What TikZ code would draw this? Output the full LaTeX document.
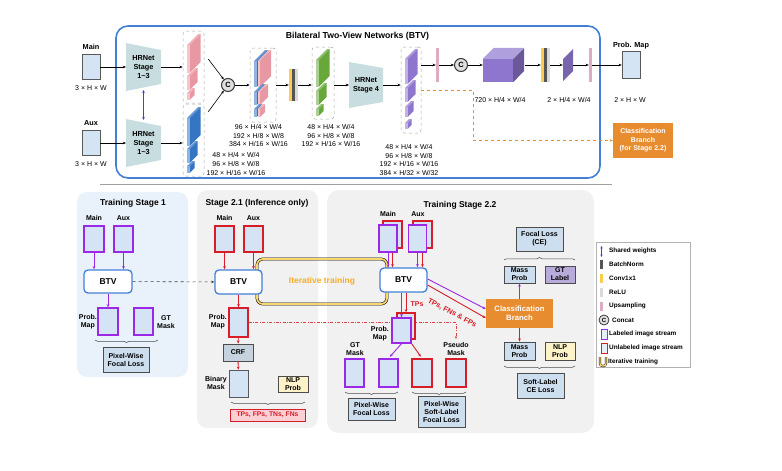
\documentclass[tikz,border=0pt]{standalone}
\usepackage{fontspec}
\setmainfont{Liberation Sans}
\usetikzlibrary{arrows.meta,decorations.pathreplacing}
\definecolor{inblue}{RGB}{213,228,245}
\definecolor{lossblue}{RGB}{205,222,238}
\definecolor{btvblue}{RGB}{66,128,214}
\definecolor{labpurple}{RGB}{155,40,230}
\definecolor{unlabred}{RGB}{215,30,40}
\definecolor{sharedblue}{RGB}{70,60,225}
\definecolor{trapteal}{RGB}{200,221,224}
\definecolor{clsorange}{RGB}{232,140,48}
\definecolor{pinkfeat}{RGB}{232,152,162}
\definecolor{bluefeat}{RGB}{52,118,196}
\definecolor{greenfeat}{RGB}{104,168,58}
\definecolor{violetfeat}{RGB}{142,118,206}
\definecolor{panelblue}{RGB}{233,241,250}
\definecolor{panelgray}{RGB}{241,241,241}
\definecolor{convyellow}{RGB}{250,205,80}
\definecolor{bngray}{RGB}{85,85,85}
\definecolor{relugray}{RGB}{218,218,218}
\definecolor{uppink}{RGB}{220,172,196}
\definecolor{nlpyellow}{RGB}{253,242,200}
\definecolor{gtlav}{RGB}{185,170,220}
\definecolor{crfgray}{RGB}{198,210,222}
\definecolor{loopyellow}{RGB}{250,214,110}
\definecolor{iterorange}{RGB}{245,172,45}
\definecolor{tpspink}{RGB}{250,208,213}

% feature slab: x of front, y of front top, front height, depth, colour
\newcommand{\featslab}[5]{%
  \fill[#5] (#1+2.5,#2) -- (#1+2.5+#4,#2-#4) -- (#1+2.5+#4,#2+#3-#4) -- (#1+2.5,#2+#3) -- cycle;
  \fill[#5!55!white] (#1,#2) rectangle (#1+2.5,#2+#3);
  \fill[#5!75!white] (#1,#2) -- (#1+#4,#2-#4) -- (#1+2.5+#4,#2-#4) -- (#1+2.5,#2) -- cycle;
}
% conv1x1 / batchnorm / relu bars inside a node
\newcommand{\normbars}[2]{%
  \fill[convyellow] (#1.north west) rectangle ++(3,#2);
  \fill[bngray] ([xshift=3pt]#1.north west) rectangle ++(3,#2);
  \fill[relugray] ([xshift=6pt]#1.north west) rectangle ++(3,#2);
}

\tikzset{
  lbl/.style={font=\bfseries\fontsize{7}{8}\selectfont, align=center, inner sep=0pt},
  dimtxt/.style={font=\fontsize{7}{8.6}\selectfont, align=center, inner sep=0pt},
  ttl/.style={font=\bfseries\fontsize{8.5}{9}\selectfont, inner sep=0pt},
  hrtxt/.style={lbl, font=\bfseries\fontsize{7.3}{8.6}\selectfont},
  imgbox/.style={draw=gray!70!black, fill=inblue, line width=0.5pt, minimum width=18pt, minimum height=26pt, inner sep=0pt},
  labbox/.style={imgbox, draw=labpurple, line width=1.3pt},
  unlabbox/.style={imgbox, draw=unlabred, line width=1.3pt},
  btvbox/.style={draw=btvblue, fill=white, line width=1.3pt, rounded corners=4pt, minimum width=47pt, minimum height=24pt, inner sep=0pt, font=\bfseries\fontsize{8.5}{9}\selectfont},
  lossbox/.style={draw=black!70, fill=lossblue, line width=0.7pt, align=center, inner sep=0pt, font=\bfseries\fontsize{7}{8}\selectfont},
  featcol/.style={draw=gray!70, dashed, rounded corners=3pt, line width=0.5pt, inner sep=0pt},
  catc/.style={circle, draw=gray!45!black, fill=gray!25, line width=1pt, minimum size=13pt, inner sep=0pt, font=\bfseries\fontsize{7.5}{7.5}\selectfont},
  upbar/.style={minimum width=3pt, inner sep=0pt},
  arr/.style={-{Stealth[length=3.2pt,width=2.6pt]}, line width=0.6pt},
  parr/.style={arr, draw=labpurple, line width=0.9pt},
  rarr/.style={arr, draw=unlabred, line width=0.9pt},
  brc/.style={decorate, decoration={brace, amplitude=2.5pt}, draw=black!70, line width=0.5pt},
  brcdown/.style={brc, decoration={mirror}},
  clsbox/.style={fill=clsorange, text=white, align=center, inner sep=0pt, font=\bfseries\fontsize{7.7}{9}\selectfont},
  legtxt/.style={anchor=west, inner sep=0pt, font=\bfseries\fontsize{6.4}{7}\selectfont},
}

\begin{document}
\begin{tikzpicture}[x=1pt, y=-1pt]
\useasboundingbox (0,0) rectangle (782,471);
% Panels of the lower half
\fill[panelblue, rounded corners=10pt] (77,192) rectangle (188,377);
\fill[panelgray, rounded corners=10pt] (197,190) rectangle (318,428);
\fill[panelgray, rounded corners=12pt] (327,190) rectangle (594,433);
% Separator
\draw[gray!75, line width=1pt] (100,184) -- (612,184);

% ---------- BTV network ----------
\draw[btvblue, line width=1.6pt, rounded corners=12pt] (116,26) rectangle (600,178);
\node[font=\bfseries\fontsize{8.7}{9}\selectfont] (btvT) at (357.5,36) {Bilateral Two-View Networks (BTV)};
% Inputs
\node[lbl, font=\bfseries\fontsize{7.3}{8}\selectfont] (mainT) at (91,47) {Main};
\node[imgbox, minimum height=25pt] (mainBox) at (91,67) {};
\node[dimtxt] (mainDim) at (91,88) {3 × H × W};
\node[lbl, font=\bfseries\fontsize{7.3}{8}\selectfont] (auxT) at (91,123) {Aux};
\node[imgbox, minimum height=25pt] (auxBox) at (91,143) {};
\node[dimtxt] (auxDim) at (91,164) {3 × H × W};
% HRNet stages 1-3
\fill[trapteal] (126,43) -- (161,50) -- (161,84) -- (126,91) -- cycle;
\fill[trapteal] (126,119) -- (161,126) -- (161,160) -- (126,167) -- cycle;
\node[hrtxt] (hrA) at (143.5,67) {HRNet\\Stage\\1\textasciitilde3};
\node[hrtxt] (hrB) at (143.5,143) {HRNet\\Stage\\1\textasciitilde3};
\coordinate (hrAin) at (126,67);
\coordinate (hrAout) at (161,67);
\coordinate (hrBin) at (126,143);
\coordinate (hrBout) at (161,143);
\coordinate (swTop) at (143.5,90);
\coordinate (swBot) at (143.5,120);
\draw[<->, >={Stealth[length=3pt,width=2.6pt]}, sharedblue, line width=0.9pt] (swTop) -- (swBot);
\draw[arr] (mainBox) -- (hrAin);
\draw[arr] (auxBox) -- (hrBin);
% Feature columns of both views
\node[featcol, minimum width=21pt, minimum height=72pt] (colP) at (193.5,67) {};
\featslab{187}{45}{28}{11}{pinkfeat}
\featslab{187}{76}{14}{8}{pinkfeat}
\featslab{187}{93}{7}{5}{pinkfeat}
\node[featcol, minimum width=21pt, minimum height=72pt] (colB) at (193.5,140) {};
\featslab{187}{118}{28}{11}{bluefeat}
\featslab{187}{149}{14}{8}{bluefeat}
\featslab{187}{166}{7}{5}{bluefeat}
\draw[arr] (hrAout) -- (hrAout -| colP.west);
\draw[arr] (hrBout) -- (hrBout -| colB.west);
\node[dimtxt] (colBdim) at (236,164) {48 × H/4 × W/4\\96 × H/8 × W/8\\192 × H/16 × W/16};
% Concat of the two views
\node[catc] (cat1) at (228,85) {C};
\draw[arr] ([xshift=4pt,yshift=8pt]colP.east) -- (cat1);
\draw[arr] ([xshift=4pt,yshift=-8pt]colB.north east) -- (cat1);
\node[featcol, minimum width=26pt, minimum height=74pt] (colC) at (263,85) {};
\featslab{254}{61}{26}{11}{bluefeat}
\featslab{257.5}{61}{26}{11}{pinkfeat}
\featslab{254}{92}{13}{8}{bluefeat}
\featslab{257.5}{92}{13}{8}{pinkfeat}
\featslab{254}{109}{8}{5}{bluefeat}
\featslab{257.5}{109}{8}{5}{pinkfeat}
\draw[arr] (cat1) -- (colC);
\node[dimtxt] (colCdim) at (258.5,135.5) {96 × H/4 × W/4\\192 × H/8 × W/8\\384 × H/16 × W/16};
% Fusion layers
\node[minimum width=9pt, minimum height=32pt, inner sep=0pt] (bn1) at (293.5,85) {};
\normbars{bn1}{32}
\draw[arr] (colC) -- (bn1);
\node[featcol, minimum width=22pt, minimum height=72pt] (colG) at (323,83) {};
\featslab{316}{60}{27}{11}{greenfeat}
\featslab{316}{91}{14}{8}{greenfeat}
\featslab{316}{109}{7}{5}{greenfeat}
\draw[arr] (bn1.east) -- (bn1.east -| colG.west);
\node[dimtxt] (colGdim) at (331,135.5) {48 × H/4 × W/4\\96 × H/8 × W/8\\192 × H/16 × W/16};
% HRNet stage 4
\fill[trapteal] (349,62) -- (383,68) -- (383,102) -- (349,108) -- cycle;
\node[hrtxt] (hrC) at (366,85.5) {HRNet\\Stage 4};
\coordinate (hrCin) at (349,85);
\coordinate (hrCout) at (383,85);
\draw[arr] (colG.east |- hrCin) -- (hrCin);
\node[featcol, minimum width=20pt, minimum height=86pt] (colV) at (411,90) {};
\featslab{405}{59}{25}{10}{violetfeat}
\featslab{405}{88}{14}{8}{violetfeat}
\featslab{405}{107}{10}{6}{violetfeat}
\featslab{405}{123}{6}{4}{violetfeat}
\draw[arr] (hrCout) -- (hrCout -| colV.west);
\node[dimtxt] (colVdim) at (409,160) {48 × H/4 × W/4\\96 × H/8 × W/8\\192 × H/16 × W/16\\384 × H/32 × W/32};
% Segmentation head
\node[upbar, fill=uppink, minimum height=34pt] (up1) at (437.5,65) {};
\draw[arr] (colV.east |- up1) -- (up1);
\node[catc] (cat2) at (461,65) {C};
\draw[arr] (up1) -- (cat2);
\node[fill=violetfeat, minimum width=30pt, minimum height=23pt, inner sep=0pt] (cubeA) at (498,70.5) {};
\fill[violetfeat!70!white] (cubeA.north west) -- ++(11,-11) -- ++(30,0) -- (cubeA.north east) -- cycle;
\fill[violetfeat!75!black] (cubeA.north east) -- ++(11,-11) -- ++(0,23) -- (cubeA.south east) -- cycle;
\draw[arr] (cat2) -- (cat2 -| cubeA.west);
\node[dimtxt] (cubeDim) at (500,100) {720 × H/4 × W/4};
\coordinate (cubeOut) at (525,65);
\node[minimum width=9pt, minimum height=34pt, inner sep=0pt] (bn2) at (545.5,65) {};
\normbars{bn2}{34}
\draw[arr] (cubeOut) -- (bn2);
\node[minimum width=10pt, minimum height=32pt, inner sep=0pt] (convB) at (568,65) {};
\fill[violetfeat!85!black] (563,59) -- (573,49) -- (573,71) -- (563,81) -- cycle;
\draw[arr] (bn2) -- (convB);
\node[dimtxt] (convDim) at (569,100) {2 × H/4 × W/4};
\node[upbar, fill=uppink, minimum height=34pt] (up2) at (590.5,65) {};
\draw[arr] (convB) -- (up2);
\node[lbl, font=\bfseries\fontsize{7.3}{8}\selectfont] (probT) at (631,46) {Prob. Map};
\node[imgbox, minimum height=27pt] (probBox) at (631,65) {};
\draw[arr] (up2) -- (probBox);
\node[dimtxt] (probDim) at (630,100) {2 × H × W};
% Classification branch
\node[clsbox, font=\bfseries\fontsize{7}{8.6}\selectfont, minimum width=60pt, minimum height=35pt] (clsTop) at (643,140.5) {Classification\\Branch\\(for Stage 2.2)};
\draw[arr, clsorange, dashed, line width=0.8pt] (colV.east) -- ++(52,0) |- (clsTop.west);

% ---------- Training stage 1 ----------
\node[ttl] (s1T) at (133,203) {Training Stage 1};
\node[lbl] (s1mainT) at (94,218) {Main};
\node[lbl] (s1auxT) at (123.5,218) {Aux};
\node[labbox, minimum width=20pt] (s1main) at (94,239) {};
\node[labbox, minimum width=19pt] (s1aux) at (123.5,239) {};
\node[btvbox, minimum width=48pt, minimum height=23pt] (s1btv) at (108,281.5) {BTV};
\draw[parr] (s1main) -- (s1main |- s1btv.north);
\draw[parr] (s1aux) -- (s1aux |- s1btv.north);
\node[labbox, minimum width=20pt, minimum height=27pt] (s1prob) at (108,321.5) {};
\draw[parr] (s1btv) -- (s1prob);
\node[lbl, anchor=east] (s1probT) at (97,322) {Prob.\\Map};
\node[labbox, minimum width=19pt, minimum height=27pt] (s1gt) at (143.5,321.5) {};
\node[lbl, anchor=west] (s1gtT) at (157,322) {GT\\Mask};
\draw[brcdown] (95,340) -- (158,340);
\node[lossbox, minimum width=46pt, minimum height=25pt] (s1loss) at (126,359.5) {Pixel-Wise\\Focal Loss};

% ---------- Stage 2.1 ----------
\node[ttl] (s21T) at (257,203) {Stage 2.1 (Inference only)};
\node[lbl] (s21mainT) at (224.5,218) {Main};
\node[lbl] (s21auxT) at (253.5,218) {Aux};
\node[unlabbox, minimum width=19pt] (s21main) at (224.5,239) {};
\node[unlabbox, minimum width=19pt] (s21aux) at (253.5,239) {};
% Iterative training loop
\draw[black, line width=0.5pt, double=loopyellow, double distance=1.8pt, rounded corners=6pt] (257,259) rectangle (387,304);
\node[font=\bfseries\fontsize{8.5}{9}\selectfont, text=iterorange] (iterT) at (322,281) {Iterative training};
\node[btvbox] (s21btv) at (238.5,282) {BTV};
\draw[rarr] (s21main) -- (s21main |- s21btv.north);
\draw[rarr] (s21aux) -- (s21aux |- s21btv.north);
\draw[arr, dashed, black!75] (s1btv) -- (s21btv);
\node[unlabbox, minimum width=19pt, minimum height=29pt] (s21prob) at (238.5,322.5) {};
\draw[rarr] (s21btv) -- (s21prob);
\node[lbl, anchor=east] (s21probT) at (227,322) {Prob.\\Map};
\node[lossbox, fill=crfgray, minimum width=30pt, minimum height=17pt] (crf) at (238,352.5) {CRF};
\draw[rarr] (s21prob) -- (crf);
\node[imgbox, minimum width=19pt, minimum height=27pt] (s21bin) at (238.5,383.5) {};
\draw[rarr] (crf) -- (s21bin);
\node[lbl, anchor=east] (s21binT) at (227,383) {Binary\\Mask};
\node[lossbox, fill=nlpyellow, minimum width=30pt, minimum height=16pt] (s21nlp) at (293,384) {NLP\\Prob};
\draw[brcdown] (231,402) -- (305,402);
\node[draw=unlabred, fill=tpspink, text=unlabred, line width=0.7pt, inner sep=0pt, minimum width=75pt, minimum height=12pt, font=\bfseries\fontsize{6.8}{7}\selectfont] (s21tps) at (267.5,415) {TPs, FPs, TNs, FNs};
% Pseudo mask path
\coordinate (pseudoTurn) at (456,322.5);
\coordinate (pseudoEnd) at (456,339);
\draw[-{Stealth[length=3pt,width=2.4pt]}, unlabred!85, line width=0.6pt, dash pattern=on 3pt off 1.5pt on 0.8pt off 1.5pt] (s21prob.east) -- (pseudoTurn) -- (pseudoEnd);

% ---------- Training stage 2.2 ----------
\node[ttl] (s22T) at (460,205) {Training Stage 2.2};
\node[lbl] (s22mainT) at (388,214) {Main};
\node[lbl] (s22auxT) at (418,214) {Aux};
\node[unlabbox, minimum width=19pt, minimum height=27pt] (s22mainR) at (392.5,234.5) {};
\node[labbox, minimum width=18pt, minimum height=27pt] (s22main) at (388,238.5) {};
\node[unlabbox, minimum width=19pt, minimum height=27pt] (s22auxR) at (422.5,234.5) {};
\node[labbox, minimum width=18pt, minimum height=27pt] (s22aux) at (417.5,238.5) {};
\node[btvbox] (s22btv) at (403.5,280) {BTV};
\draw[parr] (s22main) -- (s22main |- s22btv.north);
\draw[rarr] (s22main.south -| s22mainR) -- (s22mainR |- s22btv.north);
\draw[parr] (s22aux) -- (s22aux |- s22btv.north);
\draw[rarr] (s22aux.south -| s22auxR) -- (s22auxR |- s22btv.north);
\node[unlabbox, minimum width=18pt, minimum height=26pt] (s22probR) at (406,326) {};
\node[labbox, minimum width=19pt, minimum height=25pt] (s22prob) at (401.5,330.5) {};
\draw[parr] (s22prob |- s22btv.south) -- (s22prob);
\draw[rarr] (s22probR |- s22btv.south) -- (s22probR);
\node[lbl, anchor=west, text=unlabred] (s22tpsT) at (410.5,304) {TPs};
\node[lbl, anchor=east] (s22probT) at (389,334) {Prob.\\Map};
\node[lbl] (s22gtT) at (355,349) {GT\\Mask};
\node[lbl] (s22pseudoT) at (456,349) {Pseudo\\Mask};
\node[labbox, minimum width=19pt, minimum height=28pt] (s22gt) at (354.5,373) {};
\node[labbox, minimum width=19pt, minimum height=28pt] (s22pred) at (388.5,373) {};
\node[unlabbox, minimum width=20pt, minimum height=28pt] (s22predR) at (422,373) {};
\node[unlabbox, minimum width=20pt, minimum height=28pt] (s22pseudo) at (456,373) {};
\draw[parr, shorten >=2pt] (s22prob.south) -- (s22pred.north);
\draw[rarr, shorten >=2pt] (s22prob.south east) -- (s22predR.north);
\draw[brcdown] (345,392) -- (398,392);
\draw[brcdown] (412,392) -- (466,392);
\node[lossbox, minimum width=47pt, minimum height=22pt] (s22fl) at (371.5,409) {Pixel-Wise\\Focal Loss};
\node[lossbox, minimum width=47pt, minimum height=31pt] (s22sl) at (441.5,411.5) {Pixel-Wise\\Soft-Label\\Focal Loss};
% Classification branch of stage 2.2
\node[clsbox, minimum width=67pt, minimum height=29pt] (cls) at (519.5,313.5) {Classification\\Branch};
\draw[parr] ([yshift=1pt]s22btv.east) -- ([yshift=4.5pt]cls.west);
\draw[rarr] ([yshift=-5pt]s22btv.east) -- ([yshift=-4.5pt]cls.west);
\node[lbl, rotate=-28, text=unlabred, font=\bfseries\fontsize{7.3}{8}\selectfont] (tfnT) at (452,313) {TPs, FNs \& FPs};
\node[lossbox, minimum width=31pt, minimum height=17pt] (mp1) at (519.5,274.5) {Mass\\Prob};
\node[lossbox, fill=gtlav, minimum width=30pt, minimum height=17pt] (gtl) at (560,274.5) {GT\\Label};
\draw[brc] (504,260) -- (575,260);
\node[lossbox, minimum width=47pt, minimum height=24pt] (fce) at (539.5,239) {Focal Loss\\(CE)};
\draw[parr] (cls) -- (mp1);
\node[lossbox, minimum width=31pt, minimum height=18pt] (mp2) at (519.5,351) {Mass\\Prob};
\node[lossbox, fill=nlpyellow, minimum width=30pt, minimum height=18pt] (nlp2) at (560,351) {NLP\\Prob};
\draw[rarr] (cls) -- (mp2);
\draw[brcdown] (504,366) -- (575,366);
\node[lossbox, minimum width=47pt, minimum height=25pt] (slce) at (540.5,385.5) {Soft-Label\\CE Loss};

% ---------- Legend ----------
\draw[gray!60, fill=white, line width=0.6pt] (596,242) rectangle (690,367);
\draw[<->, >={Stealth[length=2.5pt,width=2.2pt]}, sharedblue, line width=0.8pt] (601.5,246) -- (601.5,257);
\node[legtxt] (legSW) at (609,251) {Shared weights};
\fill[bngray] (600,259.5) rectangle (603,268.5);
\node[legtxt] (legBN) at (609,264) {BatchNorm};
\fill[convyellow] (600,273.5) rectangle (603,282.5);
\node[legtxt] (legConv) at (609,278) {Conv1x1};
\fill[relugray] (600,287.5) rectangle (603,296.5);
\node[legtxt] (legReLU) at (609,292) {ReLU};
\fill[uppink] (600,301.5) rectangle (603,310.5);
\node[legtxt] (legUp) at (609,306) {Upsampling};
\node[catc, minimum size=10pt, line width=0.8pt, font=\bfseries\fontsize{6}{6}\selectfont] (legCat) at (604,320) {C};
\node[legtxt] (legCatT) at (612,320) {Concat};
\draw[labpurple, fill=inblue!60, line width=0.9pt] (601.5,329.5) rectangle (607,339);
\node[legtxt] (legLab) at (609,334) {Labeled image stream};
\draw[unlabred, fill=inblue!60, line width=0.9pt] (601.5,343.5) rectangle (607,353);
\node[legtxt] (legUnlab) at (609,348) {Unlabeled image stream};
\draw[black, line width=0.4pt, double=loopyellow, double distance=1.3pt, rounded corners=2.5pt] (600,357) -- (600,366) -- (606,366) -- (606,357);
\node[legtxt] (legIter) at (608,362) {Iterative training};
\end{tikzpicture}
\end{document}
